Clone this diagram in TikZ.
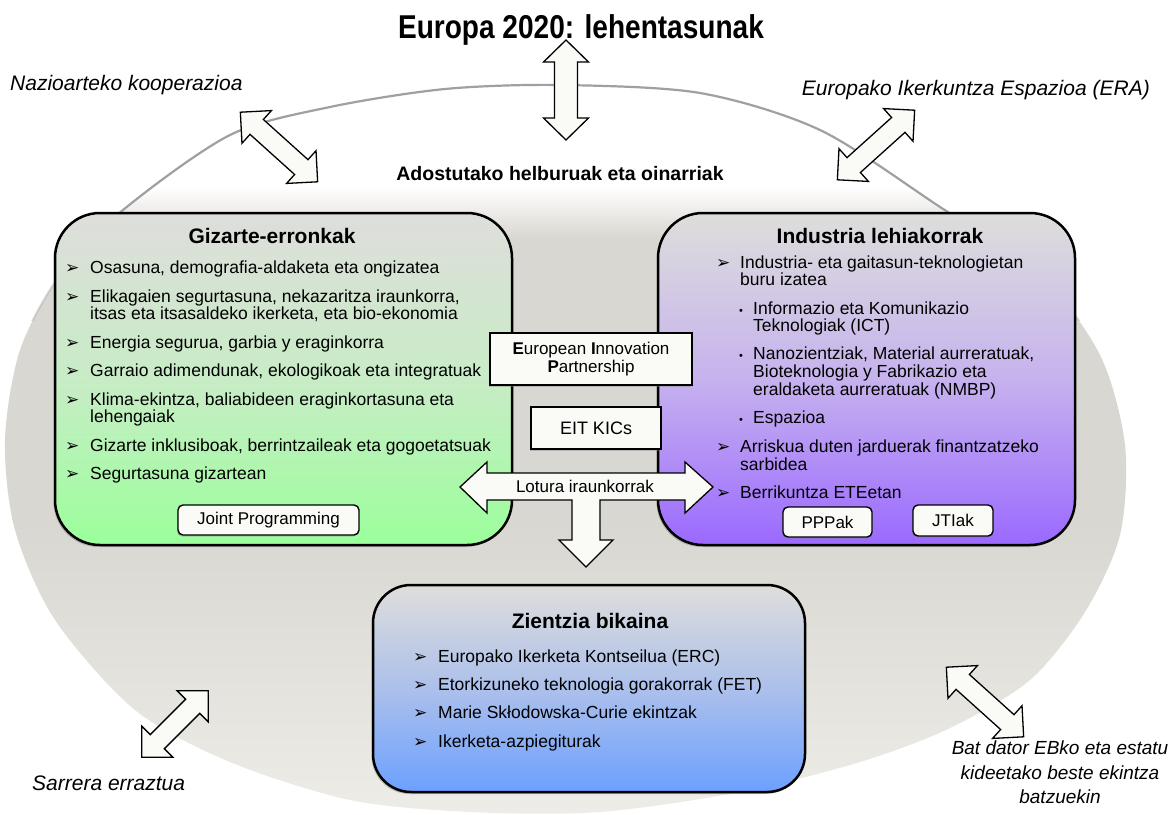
\documentclass[tikz,border=0pt]{standalone}
\usepackage{fontspec}
\setmainfont{Liberation Sans}
\newfontfamily\djv{DejaVu Sans}
\usepackage{graphicx}
\usetikzlibrary{shadows}
\definecolor{ellM}{RGB}{217,215,209}
\definecolor{ellB}{RGB}{238,236,231}
\definecolor{arcc}{RGB}{160,160,160}
\definecolor{boxg}{RGB}{222,222,219}
\definecolor{grnM}{RGB}{200,236,198}
\definecolor{grnB}{RGB}{155,255,155}
\definecolor{purM}{RGB}{198,178,238}
\definecolor{purB}{RGB}{155,105,255}
\definecolor{bluM}{RGB}{172,192,235}
\definecolor{bluB}{RGB}{108,160,255}
\definecolor{afill}{RGB}{250,250,246}
\pgfdeclareverticalshading{ellfill}{100bp}{color(0bp)=(ellB); color(25bp)=(ellB); color(45bp)=(ellM); color(64.5bp)=(ellM); color(68bp)=(white); color(100bp)=(white)}
\tikzset{
  bigbox/.style={draw=black, line width=2.5pt, rounded corners=45pt, inner sep=0pt,
    drop shadow={shadow xshift=-1.5pt, shadow yshift=-2pt, opacity=.45}},
  smallbox/.style={draw=black, line width=1.4pt, fill=afill, rounded corners=5pt, inner sep=0pt,
    font=\fontsize{17}{18}\selectfont, drop shadow={shadow xshift=-1pt, shadow yshift=-1.5pt, opacity=.4}},
  sqbox/.style={draw=black, line width=1.6pt, fill=afill, inner sep=0pt, align=center,
    font=\fontsize{17}{18}\selectfont, drop shadow={shadow xshift=-1pt, shadow yshift=-1.5pt, opacity=.4}},
  item/.style={anchor=base west, inner sep=0pt, font=\fontsize{17.5}{18}\selectfont},
  bul/.style={anchor=base west, inner sep=0pt, font=\djv\fontsize{17}{17}\selectfont},
  sub/.style={anchor=base west, inner sep=0pt, font=\fontsize{11}{11}\selectfont},
  btitle/.style={anchor=base, inner sep=0pt, font=\bfseries\fontsize{21}{24}\selectfont},
  lab/.style={inner sep=0pt, font=\itshape\fontsize{21}{25}\selectfont},
  blk/.style={draw=black, line width=1.3pt, fill=afill, line join=miter},
  arcline/.style={draw=arcc, line width=2.2pt},
  pics/dbl/.style args={#1/#2/#3/#4}{code={
    \draw[blk] (-#1,0) -- (-#1+#3,#2) -- (-#1+#3,#4) -- (#1-#3,#4) -- (#1-#3,#2) -- (#1,0)
      -- (#1-#3,-#2) -- (#1-#3,-#4) -- (-#1+#3,-#4) -- (-#1+#3,-#2) -- cycle;}}
}
\begin{document}
\begin{tikzpicture}[x=1pt,y=-1pt]
\useasboundingbox (0,0) rectangle (1174,814);
\fill[white] (0,0) rectangle (1174,814);
% big ellipse
\def\ellpts{(560,85) (700,93) (820,130) (937,205) (1040,275) (1100,355) (1125,445) (1120,535) (1085,612) (1030,680) (950,728) (860,762) (740,792) (600,812) (470,812) (350,800) (230,762) (135,710) (55,620) (15,530) (5,440) (20,350) (60,275) (123,210) (230,135) (330,107) (445,89)}
\shade[shading=ellfill] plot[smooth cycle] coordinates {\ellpts};
\begin{scope}
  \clip (0,0) rectangle (1174,260);
  \draw[arcline] plot[smooth cycle] coordinates {\ellpts};
\end{scope}
\begin{scope}
  \clip (0,260) rectangle (1174,320);
  \draw[arcline, draw opacity=.35] plot[smooth cycle] coordinates {\ellpts};
\end{scope}
% top texts and arrows
\node[anchor=base, inner sep=0pt] (title) at (581,38) {\scalebox{0.85}[1]{\bfseries\fontsize{33}{36}\selectfont Europa 2020: lehentasunak}};
\pic[rotate=90] at (566,90) {dbl=50/22.5/22/11.5};
\pic[rotate=-42] at (279,147) {dbl=52/22/22/10};
\pic[rotate=42] at (876,145) {dbl=52/22/22/10};
\node[lab, anchor=base west] (nazio) at (10,90) {Nazioarteko kooperazioa};
\node[lab, anchor=base east] (era) at (1150,95) {Europako Ikerkuntza Espazioa (ERA)};
\node[anchor=base, inner sep=0pt, font=\bfseries\fontsize{19.5}{22}\selectfont] (adost) at (560,180) {Adostutako helburuak eta oinarriak};
% main boxes
\node[bigbox, top color=boxg, bottom color=grnB, middle color=grnM, minimum width=457pt, minimum height=332pt] (gizarte) at (283.5,379) {};
\node[bigbox, top color=boxg, bottom color=purB, middle color=purM, minimum width=417pt, minimum height=332pt] (industria) at (866.5,379) {};
\node[bigbox, rounded corners=38pt, top color=boxg, bottom color=bluB, middle color=bluM, minimum width=432pt, minimum height=207pt] (zientzia) at (589,688.5) {};
% box titles
\node[btitle] (gizT) at (272,243) {Gizarte-erronkak};
\node[btitle] (indT) at (880,243) {Industria lehiakorrak};
\node[btitle] (zieT) at (590,628) {Zientzia bikaina};
% left items
\foreach \yy [count=\i] in {273,302,348,376,405,451,479} \node[bul] (gb\i) at (65,\yy) {➢};
\node[item] (g1) at (90,273) {Osasuna, demografia-aldaketa eta ongizatea};
\node[item] (g2) at (90,302) {Elikagaien segurtasuna, nekazaritza iraunkorra,};
\node[item] (g3) at (90,319) {itsas eta itsasaldeko ikerketa, eta bio-ekonomia};
\node[item] (g4) at (90,348) {Energia segurua, garbia y eraginkorra};
\node[item] (g5) at (90,376) {Garraio adimendunak, ekologikoak eta integratuak};
\node[item] (g6) at (90,405) {Klima-ekintza, baliabideen eraginkortasuna eta};
\node[item] (g7) at (90,422) {lehengaiak};
\node[item] (g8) at (90,451) {Gizarte inklusiboak, berrintzaileak eta gogoetatsuak};
\node[item] (g9) at (90,479) {Segurtasuna gizartean};
% right items
\foreach \yy [count=\i] in {268,452,498} \node[bul] (ib\i) at (716,\yy) {➢};
\foreach \yy [count=\i] in {314,359,423} \node[sub] (is\i) at (739,\yy) {•};
\node[item] (r1) at (740,268) {Industria- eta gaitasun-teknologietan};
\node[item] (r2) at (740,285) {buru izatea};
\node[item] (r3) at (753,314) {Informazio eta Komunikazio};
\node[item] (r4) at (753,331) {Teknologiak (ICT)};
\node[item] (r5) at (753,359) {Nanozientziak, Material aurreratuak,};
\node[item] (r6) at (753,377) {Bioteknologia y Fabrikazio eta};
\node[item] (r7) at (753,395) {eraldaketa aurreratuak (NMBP)};
\node[item] (r8) at (753,423) {Espazioa};
\node[item] (r9) at (740,452) {Arriskua duten jarduerak finantzatzeko};
\node[item] (r10) at (740,470) {sarbidea};
\node[item] (r11) at (740,498) {Berrikuntza ETEetan};
% bottom items
\foreach \yy [count=\i] in {662,690,718,747} \node[bul] (zb\i) at (413,\yy) {➢};
\node[item] (z1) at (438,662) {Europako Ikerketa Kontseilua (ERC)};
\node[item] (z2) at (438,690) {Etorkizuneko teknologia gorakorrak (FET)};
\node[item] (z3) at (438,718) {Marie Skłodowska-Curie ekintzak};
\node[item] (z4) at (438,747) {Ikerketa-azpiegiturak};
% small boxes
\node[smallbox, minimum width=181pt, minimum height=30pt] (joint) at (268.5,520) {Joint Programming};
\node[smallbox, minimum width=89pt, minimum height=30pt] (ppp) at (827.5,522) {PPPak};
\node[smallbox, minimum width=80pt, minimum height=31pt] (jti) at (953,520.5) {JTIak};
\node[sqbox, minimum width=202pt, minimum height=52pt] (eip) at (591,359) {\textbf{E}uropean \textbf{I}nnovation\\\textbf{P}artnership};
\node[sqbox, minimum width=130pt, minimum height=42pt, font=\fontsize{18}{20}\selectfont] (eit) at (596,428) {EIT KICs};
% Lotura T-arrow
\draw[blk] (460,487) -- (487,462) -- (487,473) -- (685,473) -- (685,462) -- (713,487) -- (685,513)
  -- (685,500) -- (600,500) -- (600,540) -- (613,540) -- (586,567) -- (559,540) -- (572,540)
  -- (572,500) -- (487,500) -- (487,513) -- cycle;
\node[inner sep=0pt, font=\fontsize{17}{18}\selectfont] (lotura) at (585,486) {Lotura iraunkorrak};
% bottom arrows and labels
\pic[rotate=45] at (175,724) {dbl=47/22/22/10};
\pic[rotate=-42] at (985,702) {dbl=52/22/22/10};
\node[lab, anchor=base west] (sarrera) at (32,790) {Sarrera erraztua};
\node[lab, anchor=base, font=\itshape\fontsize{19}{24}\selectfont] (bat1) at (1060,754) {Bat dator EBko eta estatu};
\node[lab, anchor=base, font=\itshape\fontsize{19}{24}\selectfont] (bat2) at (1060,779) {kideetako beste ekintza};
\node[lab, anchor=base, font=\itshape\fontsize{19}{24}\selectfont] (bat3) at (1060,803) {batzuekin};
\end{tikzpicture}
\end{document}
